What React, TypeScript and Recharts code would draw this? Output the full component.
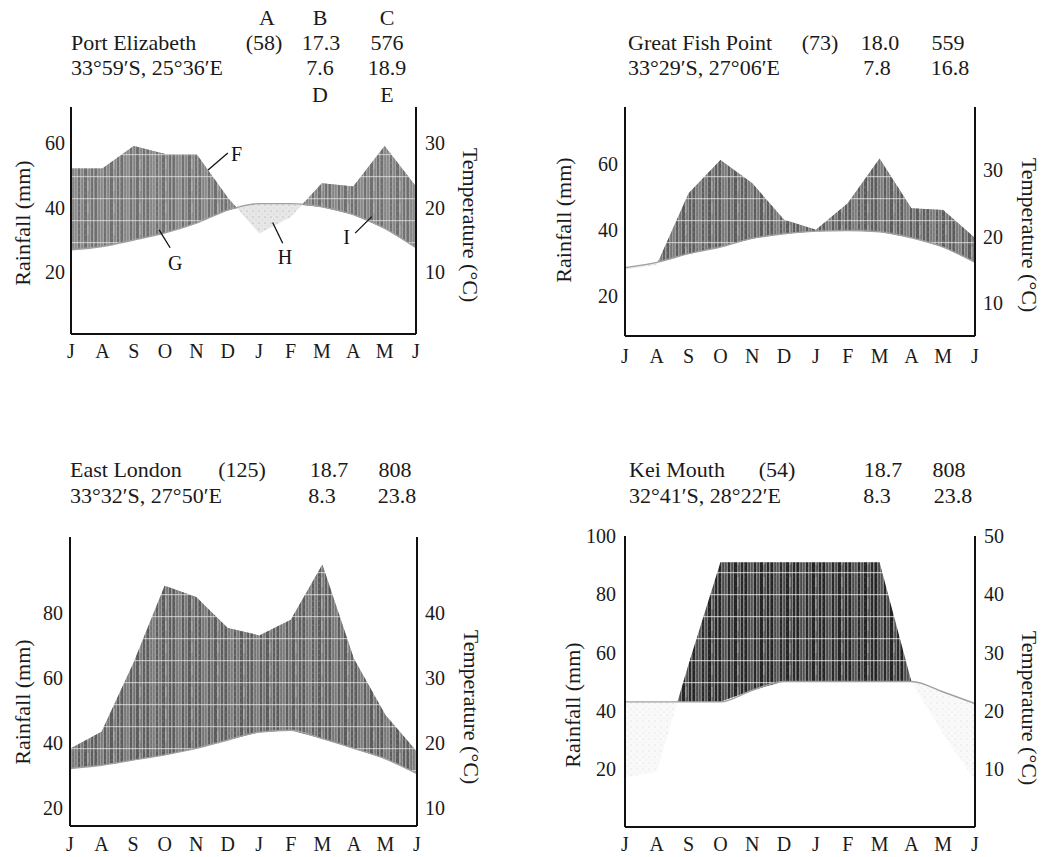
import React from 'react';
import { ComposedChart, Area, Line, XAxis, YAxis, ReferenceLine, ReferenceDot } from 'recharts';

const MONTHS = ['J', 'A', 'S', 'O', 'N', 'D', 'J', 'F', 'M', 'A', 'M', 'J'];

// Port Elizabeth
const peRain = [52, 52, 59, 56.5, 56.5, 43, 32, 37, 47.5, 46.5, 59, 46.5];
const peTemp = [13.5, 14.0, 15.0, 16.1, 17.6, 19.6, 20.6, 20.6, 20.1, 18.9, 16.8, 13.8];
// Great Fish Point
const gfRain = [28, 29.5, 51, 61, 54, 43, 40, 48, 61.5, 46.5, 46, 37.5];
const gfTemp = [15.3, 16.1, 17.4, 18.4, 19.7, 20.4, 20.8, 20.9, 20.7, 19.8, 18.4, 16.1];
// East London
const elRain = [38.3, 43.5, 64.5, 88.5, 85, 75.5, 73.2, 78, 95, 66, 48.7, 37.4];
const elTemp = [16.1, 16.6, 17.4, 18.2, 19.2, 20.5, 21.7, 22.0, 20.7, 19.2, 17.6, 15.3];
// Kei Mouth
const kmRain = [17, 19, 56, 91, 91, 91, 91, 91, 91, 50, 32, 16];
const kmTemp = [21.5, 21.5, 21.5, 21.5, 23.5, 25, 25, 25, 25, 25, 23.2, 21.2];

const FONT = "'Liberation Serif', 'Times New Roman', Times, serif";
const W = 1042;
const H = 857;
const YW = 40;
const XH = 30;

type Note = { label: string; from: [number, number]; to: [number, number]; at: [number, number] };

const peNotes: Note[] = [
  { label: 'F', from: [5.0, 56.8], to: [4.37, 51.6], at: [5.28, 56.5] },
  { label: 'G', from: [3.16, 27.6], to: [2.81, 33.1], at: [3.32, 22.9] },
  { label: 'H', from: [6.75, 29], to: [6.43, 35.4], at: [6.82, 24.9] },
  { label: 'I', from: [9.06, 32.1], to: [9.59, 37.2], at: [8.79, 30.9] },
];

type Cfg = {
  id: string;
  rain: number[];
  temp: number[];
  off: number;
  box: { l: number; t: number; r: number; b: number };
  lDomain: [number, number];
  lTicks: number[];
  rTicks: number[];
  lGap: number;
  rGap: number;
  xGap: number;
  dotTint: number;
  notes?: Note[];
};

const panels: Cfg[] = [
  { id: 'pe', rain: peRain, temp: peTemp, off: 0, box: { l: 71, t: 107, r: 416, b: 334 }, lDomain: [1, 71], lTicks: [20, 40, 60], rTicks: [10, 20, 30], lGap: 6, rGap: 9, xGap: 10, dotTint: 0.5, notes: peNotes },
  { id: 'gf', rain: gfRain, temp: gfTemp, off: 2, box: { l: 625, t: 107, r: 975, b: 336 }, lDomain: [8, 77], lTicks: [20, 40, 60], rTicks: [10, 20, 30], lGap: 7, rGap: 8, xGap: 13, dotTint: 0.4 },
  { id: 'el', rain: elRain, temp: elTemp, off: 0, box: { l: 70, t: 537, r: 417, b: 826 }, lDomain: [14.5, 103.5], lTicks: [20, 40, 60, 80], rTicks: [10, 20, 30, 40], lGap: 7, rGap: 8, xGap: 11, dotTint: 0.4 },
  { id: 'km', rain: kmRain, temp: kmTemp, off: 0, box: { l: 625, t: 536, r: 975, b: 827 }, lDomain: [0, 100], lTicks: [20, 40, 60, 80, 100], rTicks: [10, 20, 30, 40, 50], lGap: 9, rGap: 9, xGap: 10, dotTint: 0.12 },
];

const tickStyle = { fill: '#1a1a1a', fontSize: 20, fontFamily: FONT, style: { fontFamily: FONT } };
const frame = { stroke: '#111', strokeWidth: 2 };

function Panel({ cfg }: { cfg: Cfg }) {
  const { id, rain, temp, off, box, lDomain, lTicks, rTicks, lGap, rGap, xGap, notes, dotTint } = cfg;
  const rows = MONTHS.map((m, i) => ({ idx: i, month: m, rain: rain[i], temp: temp[i], tR: temp[i] * 2 - off }));
  const [lo, hi] = lDomain;
  const rDomain: [number, number] = [(lo + off) / 2, (hi + off) / 2];
  const margin = { left: box.l - YW, right: W - box.r - YW, top: box.t, bottom: H - box.b - XH };
  return (
    <div style={{ position: 'absolute', left: 0, top: 0, width: W, height: H, pointerEvents: 'none', fontFamily: FONT }}>
      <ComposedChart width={W} height={H} data={rows} margin={margin} style={{ fontFamily: FONT }}>
        <defs>
          <pattern id={`hatch-${id}`} width="26" height="22" patternUnits="userSpaceOnUse">
            <rect width="26" height="22" fill="#7a7a7a" />
            <rect x="0" width="2" height="22" fill="#111" />
            <rect x="3.5" width="1.2" height="22" fill="#1a1a1a" />
            <rect x="6" width="3" height="22" fill="#0d0d0d" />
            <rect x="10.5" width="1.2" height="22" fill="#222" />
            <rect x="13" width="2" height="22" fill="#111" />
            <rect x="16.5" width="2.5" height="22" fill="#0d0d0d" />
            <rect x="20.5" width="1.2" height="22" fill="#1a1a1a" />
            <rect x="23.2" width="1.3" height="22" fill="#333" />
            <rect y="0" width="26" height="1.2" fill="#fff" fillOpacity="0.65" />
            <rect x="9.6" y="5" width="0.8" height="10" fill="#ddd" fillOpacity="0.6" />
          </pattern>
          <pattern id={`dots-${id}`} width="6" height="6" patternUnits="userSpaceOnUse">
            <rect width="6" height="6" fill="#d0d0d0" fillOpacity={dotTint} />
            <circle cx="1" cy="1" r="0.6" fill="#999" fillOpacity={Math.min(1, dotTint * 2 + 0.2)} />
            <circle cx="4" cy="4" r="0.45" fill="#aaa" fillOpacity={Math.min(1, dotTint * 2 + 0.2)} />
          </pattern>
        </defs>
        <Area type="linear" dataKey={(d: any) => [d.tR, hi]} fill={`url(#hatch-${id})`} fillOpacity={1} stroke="none" dot={false} activeDot={false} isAnimationActive={false} />
        <Area type="linear" dataKey={(d: any) => [d.rain, hi]} fill="#ffffff" fillOpacity={1} stroke="none" dot={false} activeDot={false} isAnimationActive={false} />
        <Line type="monotone" yAxisId="r" dataKey="temp" stroke="#a0a0a0" strokeWidth={1.4} dot={false} activeDot={false} isAnimationActive={false} />
        <Area type="linear" dataKey={(d: any) => [d.rain, d.tR]} fill={`url(#dots-${id})`} fillOpacity={1} stroke="none" dot={false} activeDot={false} isAnimationActive={false} />
        {notes?.map((n) => (
          <ReferenceLine key={`l-${n.label}`} segment={[{ x: n.from[0], y: n.from[1] }, { x: n.to[0], y: n.to[1] }]} stroke="#111" strokeWidth={1.3} />
        ))}
        {notes?.map((n) => (
          <ReferenceDot key={`d-${n.label}`} x={n.at[0]} y={n.at[1]} r={1} fill="none" stroke="none"
            label={{ value: n.label, position: 'center', fill: '#111', fontSize: 20, fontFamily: FONT, style: { fontFamily: FONT } }} />
        ))}
        <XAxis dataKey="idx" type="number" domain={[0, 11]} ticks={[0, 1, 2, 3, 4, 5, 6, 7, 8, 9, 10, 11]}
          tickFormatter={(v: number) => MONTHS[v]} height={XH} axisLine={frame} tickLine={false}
          tickSize={xGap - 4} tickMargin={4} tick={tickStyle} interval={0} allowDataOverflow />
        <XAxis xAxisId="top" orientation="top" dataKey="idx" type="number" domain={[0, 11]} height={0}
          tick={false} tickLine={false} axisLine={frame} allowDataOverflow />
        <YAxis type="number" domain={lDomain} ticks={lTicks} width={YW} axisLine={frame} tickLine={false}
          tickSize={lGap - 2} tickMargin={2} tick={tickStyle} allowDataOverflow interval={0} />
        <YAxis yAxisId="r" orientation="right" type="number" domain={rDomain} ticks={rTicks} width={YW}
          axisLine={frame} tickLine={false} tickSize={rGap - 3} tickMargin={3} tick={tickStyle} allowDataOverflow interval={0} />
      </ComposedChart>
    </div>
  );
}

type HText = { t: string; x: number; y: number; anchor?: 'start' | 'middle' | 'end' };

const headerTexts: HText[] = [
  { t: 'A', x: 267, y: 25, anchor: 'middle' },
  { t: 'B', x: 320, y: 25, anchor: 'middle' },
  { t: 'C', x: 387, y: 25, anchor: 'middle' },
  { t: 'Port Elizabeth', x: 71, y: 50 },
  { t: '(58)', x: 264, y: 50, anchor: 'middle' },
  { t: '17.3', x: 321, y: 50, anchor: 'middle' },
  { t: '576', x: 387, y: 50, anchor: 'middle' },
  { t: '33°59′S, 25°36′E', x: 71, y: 75 },
  { t: '7.6', x: 320, y: 75, anchor: 'middle' },
  { t: '18.9', x: 387, y: 75, anchor: 'middle' },
  { t: 'D', x: 320, y: 102, anchor: 'middle' },
  { t: 'E', x: 387, y: 102, anchor: 'middle' },

  { t: 'Great Fish Point', x: 628, y: 50 },
  { t: '(73)', x: 820, y: 50, anchor: 'middle' },
  { t: '18.0', x: 880, y: 50, anchor: 'middle' },
  { t: '559', x: 948, y: 50, anchor: 'middle' },
  { t: '33°29′S, 27°06′E', x: 628, y: 75 },
  { t: '7.8', x: 877, y: 75, anchor: 'middle' },
  { t: '16.8', x: 950, y: 75, anchor: 'middle' },

  { t: 'East London', x: 70, y: 477 },
  { t: '(125)', x: 242, y: 477, anchor: 'middle' },
  { t: '18.7', x: 329, y: 477, anchor: 'middle' },
  { t: '808', x: 395, y: 477, anchor: 'middle' },
  { t: '33°32′S, 27°50′E', x: 70, y: 503 },
  { t: '8.3', x: 322, y: 503, anchor: 'middle' },
  { t: '23.8', x: 397, y: 503, anchor: 'middle' },

  { t: 'Kei Mouth', x: 629, y: 477 },
  { t: '(54)', x: 777, y: 477, anchor: 'middle' },
  { t: '18.7', x: 883, y: 477, anchor: 'middle' },
  { t: '808', x: 949, y: 477, anchor: 'middle' },
  { t: '32°41′S, 28°22′E', x: 629, y: 503 },
  { t: '8.3', x: 877, y: 503, anchor: 'middle' },
  { t: '23.8', x: 953, y: 503, anchor: 'middle' },
];

type VText = { t: string; x: number; y: number; rot: number };
const axisTitles: VText[] = [
  { t: 'Rainfall (mm)', x: 22, y: 223, rot: -90 },
  { t: 'Temperature (°C)', x: 470, y: 225, rot: 90 },
  { t: 'Rainfall (mm)', x: 563, y: 220, rot: -90 },
  { t: 'Temperature (°C)', x: 1029, y: 235, rot: 90 },
  { t: 'Rainfall (mm)', x: 22, y: 702, rot: -90 },
  { t: 'Temperature (°C)', x: 471, y: 707, rot: 90 },
  { t: 'Rainfall (mm)', x: 572, y: 705, rot: -90 },
  { t: 'Temperature (°C)', x: 1029, y: 708, rot: 90 },
];

export default function App() {
  return (
    <div style={{ position: 'absolute', left: 0, top: 0, width: W, height: H, background: '#fff', overflow: 'hidden', fontFamily: FONT }}>
      {panels.map((p) => (
        <Panel key={p.id} cfg={p} />
      ))}
      <svg width={W} height={H} style={{ position: 'absolute', left: 0, top: 0, pointerEvents: 'none', fontFamily: FONT }}>
        {headerTexts.map((h, i) => (
          <text key={i} x={h.x} y={h.y} textAnchor={h.anchor || 'start'} style={{ fontFamily: FONT }} fontSize={22} fill="#1a1a1a">
            {h.t}
          </text>
        ))}
        {axisTitles.map((a, i) => (
          <text key={`a${i}`} x={a.x} y={a.y} textAnchor="middle" dominantBaseline="central" style={{ fontFamily: FONT }} fontSize={22}
            fill="#1a1a1a" transform={`rotate(${a.rot} ${a.x} ${a.y})`}>
            {a.t}
          </text>
        ))}
      </svg>
    </div>
  );
}
